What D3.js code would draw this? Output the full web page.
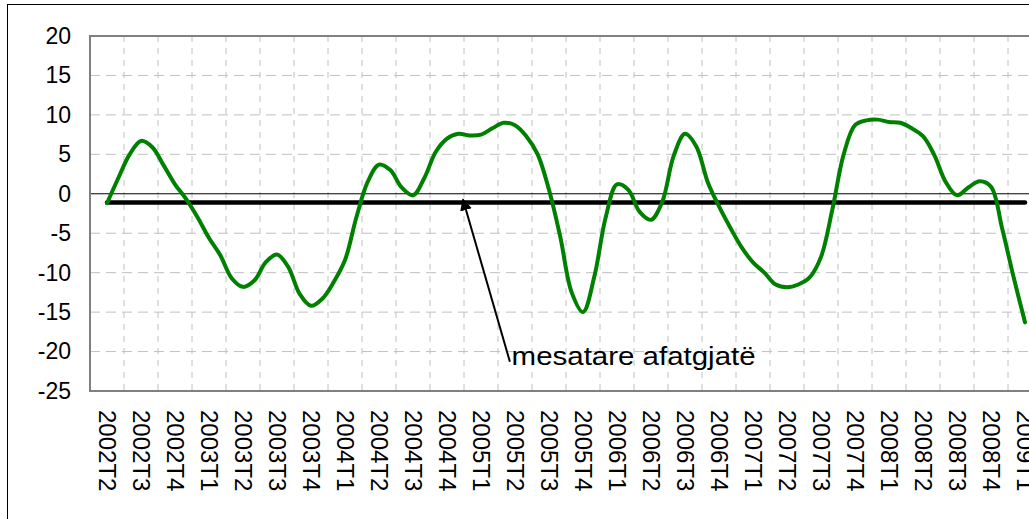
<!DOCTYPE html>
<html>
<head>
<meta charset="utf-8">
<script src="https://cdn.jsdelivr.net/npm/d3@7"></script>
<style>
  body { margin: 0; background: #fff; }
  text { font-family: "Liberation Sans", Arial, sans-serif; }
</style>
</head>
<body>
<div id="chart"></div>
<script>
const quarters = [
  "2002T2", "2002T3", "2002T4", "2003T1", "2003T2", "2003T3", "2003T4",
  "2004T1", "2004T2", "2004T3", "2004T4", "2005T1", "2005T2", "2005T3",
  "2005T4", "2006T1", "2006T2", "2006T3", "2006T4", "2007T1", "2007T2",
  "2007T3", "2007T4", "2008T1", "2008T2", "2008T3", "2008T4", "2009T1"
];

// monthly readings, three per quarter, starting at 2002T2
const monthly = [
  -1.2, 2.0, 5.0, 6.7, 5.9, 3.6, 1.2, -0.7, -3.0, -5.6,
  -7.8, -10.7, -11.8, -11.0, -8.7, -7.7, -9.3, -12.7, -14.2, -13.3,
  -11.2, -8.4, -3.0, 1.5, 3.7, 3.0, 0.8, -0.2, 2.0, 5.3,
  7.0, 7.6, 7.4, 7.5, 8.3, 9.0, 8.7, 7.3, 5.0, 0.5,
  -5.5, -12.5, -15.0, -10.5, -3.0, 1.2, 0.5, -2.3, -3.3, -1.0,
  4.8, 7.6, 6.0, 1.5, -1.6, -4.3, -6.8, -8.7, -10.0, -11.5,
  -11.85, -11.5, -10.6, -8.0, -2.0, 5.0, 8.7, 9.3, 9.4, 9.1,
  9.0, 8.3, 7.3, 4.9, 1.5, -0.2, 0.8, 1.6, 0.9, -4.5,
  -10.6, -16.3
];

const longRunMean = -1.1;
const yTicks = [-25, -20, -15, -10, -5, 0, 5, 10, 15, 20];
const noteLabel = "mesatare afatgjatë";

const W = 1029, H = 519;
const plot = { left: 90, top: 36, bottom: 391, band: 34 };
const plotRight = plot.left + plot.band * quarters.length;

const svg = d3.select("#chart")
  .append("svg")
  .attr("width", W)
  .attr("height", H);

// outer chart frame
svg.append("rect")
  .attr("x", 7.5).attr("y", 4.5)
  .attr("width", 1100).attr("height", 600)
  .attr("fill", "#fff")
  .attr("stroke", "#000")
  .attr("stroke-width", 1);

const xBand = d3.scaleBand()
  .domain(quarters)
  .range([plot.left, plotRight]);

// fractional quarter index -> pixel (0 = centre of first quarter)
const x = d3.scaleLinear()
  .domain([-0.5, quarters.length - 0.5])
  .range([plot.left, plotRight]);

const y = d3.scaleLinear()
  .domain([-25, 20])
  .range([plot.bottom, plot.top]);

// horizontal grid
svg.append("g")
  .selectAll("line")
  .data(yTicks.filter(d => d !== 0 && d !== 20 && d !== -25))
  .join("line")
  .attr("x1", plot.left).attr("x2", plotRight)
  .attr("y1", d => y(d)).attr("y2", d => y(d))
  .attr("stroke", "#c0c0c0")
  .attr("stroke-dasharray", "10,6");

// vertical grid at quarter boundaries
svg.append("g")
  .selectAll("line")
  .data(quarters.slice(1))
  .join("line")
  .attr("x1", d => xBand(d)).attr("x2", d => xBand(d))
  .attr("y1", plot.top).attr("y2", plot.bottom)
  .attr("stroke", "#c0c0c0")
  .attr("stroke-dasharray", "6,6");

// zero line
svg.append("line")
  .attr("x1", plot.left).attr("x2", plotRight)
  .attr("y1", y(0)).attr("y2", y(0))
  .attr("stroke", "#000")
  .attr("stroke-width", 1);

// plot border
svg.append("rect")
  .attr("x", plot.left).attr("y", plot.top)
  .attr("width", plotRight - plot.left)
  .attr("height", plot.bottom - plot.top)
  .attr("fill", "none")
  .attr("stroke", "#808080")
  .attr("stroke-width", 2);

// y axis labels
const yAxis = svg.append("g")
  .attr("transform", `translate(${plot.left},0)`)
  .call(d3.axisLeft(y).tickValues(yTicks).tickSize(0).tickPadding(19)
    .tickFormat(d => String(d)));
yAxis.select(".domain").remove();
yAxis.selectAll("text")
  .attr("font-size", 23)
  .attr("font-family", "Liberation Sans, Arial, sans-serif")
  .attr("fill", "#000");

// x axis labels, rotated
const xAxis = svg.append("g")
  .attr("transform", `translate(0,${plot.bottom})`)
  .call(d3.axisBottom(xBand).tickSize(0));
xAxis.select(".domain").remove();
xAxis.selectAll("text")
  .attr("font-size", 24)
  .attr("font-family", "Liberation Sans, Arial, sans-serif")
  .attr("fill", "#000")
  .attr("text-anchor", "start")
  .attr("dy", null)
  .attr("y", 0)
  .attr("dominant-baseline", "central")
  .attr("transform", "translate(0,19) rotate(90)");

// long-term average
svg.append("line")
  .attr("x1", x(0)).attr("x2", x(quarters.length - 1))
  .attr("y1", y(longRunMean)).attr("y2", y(longRunMean))
  .attr("stroke", "#000")
  .attr("stroke-width", 4.5)
  .attr("stroke-linecap", "round");

// green series
const line = d3.line()
  .x((d, i) => x(i / 3))
  .y(d => y(d))
  .curve(d3.curveCatmullRom.alpha(0.5));

svg.append("path")
  .datum(monthly)
  .attr("d", line)
  .attr("fill", "none")
  .attr("stroke", "#008000")
  .attr("stroke-width", 4)
  .attr("stroke-linejoin", "round")
  .attr("stroke-linecap", "round");

// annotation arrow
svg.append("defs")
  .append("marker")
  .attr("id", "head")
  .attr("viewBox", "0 0 10 10")
  .attr("refX", 9).attr("refY", 5)
  .attr("markerWidth", 6).attr("markerHeight", 6)
  .attr("orient", "auto")
  .append("path")
  .attr("d", "M0,0L10,5L0,10z")
  .attr("fill", "#000");

svg.append("line")
  .attr("x1", x(11.85)).attr("y1", y(-21.3))
  .attr("x2", x(10.47)).attr("y2", y(longRunMean) - 3)
  .attr("stroke", "#000")
  .attr("stroke-width", 2)
  .attr("marker-end", "url(#head)");

svg.append("text")
  .attr("x", x(11.9))
  .attr("y", y(-21.7))
  .attr("font-size", 26)
  .attr("textLength", 244)
  .attr("lengthAdjust", "spacingAndGlyphs")
  .attr("fill", "#000")
  .text(noteLabel);
</script>
</body>
</html>
